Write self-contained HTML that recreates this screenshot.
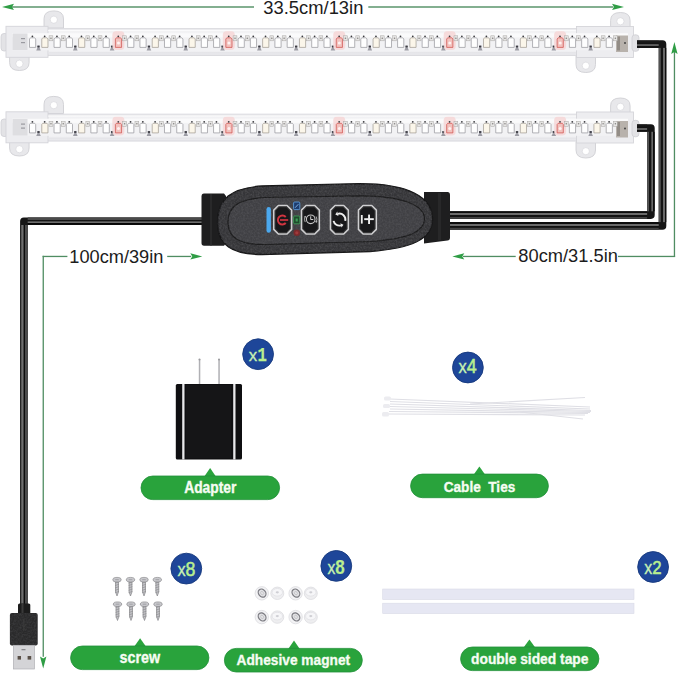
<!DOCTYPE html>
<html><head><meta charset="utf-8"><style>
html,body{margin:0;padding:0;background:#fff;width:679px;height:675px;overflow:hidden}
svg{display:block}
</style></head><body>
<svg width="679" height="675" viewBox="0 0 679 675">
<defs>
<linearGradient id="tube" x1="0" y1="0" x2="0" y2="1">
<stop offset="0" stop-color="#e9e9ec"/><stop offset="0.2" stop-color="#f6f6f8"/><stop offset="0.8" stop-color="#f3f3f5"/><stop offset="1" stop-color="#e4e4e8"/>
</linearGradient>
<linearGradient id="cLH" x1="0" y1="0" x2="0" y2="1"><stop offset="0" stop-color="#3c3c3c"/><stop offset="0.12" stop-color="#4a4a4a"/><stop offset="0.33" stop-color="#4a4a4a"/><stop offset="0.42" stop-color="#0c0c0c"/><stop offset="0.5" stop-color="#0c0c0c"/><stop offset="0.56" stop-color="#6e6e6e"/><stop offset="0.72" stop-color="#6e6e6e"/><stop offset="0.8" stop-color="#060606"/><stop offset="1" stop-color="#101010"/></linearGradient><linearGradient id="cLV" x1="0" y1="0" x2="1" y2="0"><stop offset="0" stop-color="#1e1e1e"/><stop offset="0.12" stop-color="#2e2e2e"/><stop offset="0.22" stop-color="#6e6e6e"/><stop offset="0.42" stop-color="#6e6e6e"/><stop offset="0.48" stop-color="#0c0c0c"/><stop offset="0.6" stop-color="#0c0c0c"/><stop offset="0.66" stop-color="#4a4a4a"/><stop offset="0.92" stop-color="#4a4a4a"/><stop offset="1" stop-color="#3a3a3a"/></linearGradient><linearGradient id="cRH" x1="0" y1="0" x2="0" y2="1"><stop offset="0" stop-color="#0c0c0c"/><stop offset="0.2" stop-color="#0c0c0c"/><stop offset="0.27" stop-color="#6a6a6a"/><stop offset="0.46" stop-color="#6a6a6a"/><stop offset="0.53" stop-color="#111"/><stop offset="0.7" stop-color="#111"/><stop offset="0.76" stop-color="#444"/><stop offset="1" stop-color="#3c3c3c"/></linearGradient><linearGradient id="cBH" x1="0" y1="0" x2="0" y2="1"><stop offset="0" stop-color="#3a3a3a"/><stop offset="0.12" stop-color="#1a1a1a"/><stop offset="0.5" stop-color="#111"/><stop offset="0.56" stop-color="#5f5f5f"/><stop offset="0.72" stop-color="#5f5f5f"/><stop offset="0.8" stop-color="#111"/><stop offset="1" stop-color="#151515"/></linearGradient><linearGradient id="cRV" x1="0" y1="0" x2="1" y2="0"><stop offset="0" stop-color="#505050"/><stop offset="0.22" stop-color="#555"/><stop offset="0.3" stop-color="#151515"/><stop offset="0.54" stop-color="#151515"/><stop offset="0.6" stop-color="#6a6a6a"/><stop offset="0.77" stop-color="#6a6a6a"/><stop offset="0.84" stop-color="#0e0e0e"/><stop offset="1" stop-color="#0e0e0e"/></linearGradient>
<filter id="noise" x="0" y="0" width="100%" height="100%">
<feTurbulence type="fractalNoise" baseFrequency="0.55" numOctaves="2" seed="3" result="t"/>
<feColorMatrix type="matrix" values="0 0 0 0 0.13  0 0 0 0 0.13  0 0 0 0 0.14  0 0 0 1.6 -0.55" in="t" result="n"/>
<feComposite in="n" in2="SourceGraphic" operator="in"/>
</filter>
</defs>
<rect width="679" height="675" fill="#fff"/>

<rect x="6" y="6.3" width="248" height="1.4" fill="#4f8d62"/>
<rect x="368.3" y="6.3" width="245" height="1.4" fill="#4f8d62"/>
<polygon points="2,6.9 14,3.7 12,6.9 14,10.100000000000001" fill="#2f9d45"/>
<polygon points="624,6.9 612,3.7 614,6.9 612,10.100000000000001" fill="#2f9d45"/>
<text x="263.3" y="13.6" font-family="Liberation Sans" font-size="17.7" fill="#1c1c1c" textLength="100.1" lengthAdjust="spacingAndGlyphs">33.5cm/13in</text>
<g id="bar1"><rect x="1" y="33.5" width="7" height="17.5" rx="3" fill="#e3e3e6" stroke="#cfcfd4" stroke-width="0.8"/>
<path d="M44.0,28 L44.0,18.9 Q44.0,10.9 53.8,10.9 Q63.5,10.9 63.5,18.9 L63.5,28 Z" fill="#e8e8eb" stroke="#cfcfd4" stroke-width="0.9"/><circle cx="53.8" cy="19.7" r="3.6" fill="#ffffff" stroke="#d2d2d7" stroke-width="0.6"/>
<path d="M610.6,28 L610.6,20.5 Q610.6,12.5 620.4,12.5 Q630.1,12.5 630.1,20.5 L630.1,28 Z" fill="#e8e8eb" stroke="#cfcfd4" stroke-width="0.9"/><circle cx="620.4" cy="21.3" r="3.6" fill="#ffffff" stroke="#d2d2d7" stroke-width="0.6"/>
<path d="M9.6,56 L9.6,62.5 Q9.6,70.5 19.4,70.5 Q29.1,70.5 29.1,62.5 L29.1,56 Z" fill="#e8e8eb" stroke="#cfcfd4" stroke-width="0.9"/><circle cx="19.4" cy="63.7" r="3.6" fill="#ffffff" stroke="#d2d2d7" stroke-width="0.6"/>
<path d="M576.0,56 L576.0,64.5 Q576.0,72.5 585.8,72.5 Q595.5,72.5 595.5,64.5 L595.5,56 Z" fill="#e8e8eb" stroke="#cfcfd4" stroke-width="0.9"/><circle cx="585.8" cy="65.7" r="3.6" fill="#ffffff" stroke="#d2d2d7" stroke-width="0.6"/>
<rect x="40" y="28.6" width="545" height="27" fill="url(#tube)" stroke="#d8d8dd" stroke-width="0.8"/>
<rect x="6" y="26.3" width="42" height="31" fill="#ededf0" stroke="#d4d4d9" stroke-width="0.9"/>
<rect x="576.5" y="26.5" width="57" height="31" fill="#ededf0" stroke="#d4d4d9" stroke-width="0.9"/>
<rect x="632" y="34.8" width="7" height="16.5" rx="3" fill="#e3e3e6" stroke="#cfcfd4" stroke-width="0.8"/>
<rect x="12" y="33.3" width="616" height="17" fill="#f2f2f4"/>
<rect x="12" y="33.3" width="616" height="4" fill="#fafafb"/>
<rect x="12.5" y="33.5" width="15" height="16.5" fill="#dedee1"/>
<rect x="21" y="38" width="4" height="1.2" fill="#9a9aa0"/><rect x="21" y="42" width="4" height="1.2" fill="#9a9aa0"/>
<rect x="616" y="35.5" width="12" height="16.5" fill="#b8b2ac"/>
<rect x="617" y="36.5" width="3" height="14" fill="#928c86"/>
<circle cx="625" cy="43" r="0.9" fill="#3a3a3a"/>
<path d="M29.50,39 l1,-1.2 h4.2 l1,1.2 v8.4 h-6.2 Z" fill="#fefefe" stroke="#94949a" stroke-width="0.7"/>
<circle cx="32.40" cy="36.3" r="0.9" fill="#3a3a3e"/>
<path d="M36.20,50.5 L38.50,45.2 L40.80,50.5 Z" fill="#9c9ca4"/><rect x="37.30" y="45.6" width="2.4" height="1.8" fill="#3c3c44"/>
<path d="M41.77,39 l1,-1.2 h4.2 l1,1.2 v8.4 h-6.2 Z" fill="#fbf6ea" stroke="#9d988f" stroke-width="0.7"/>
<circle cx="44.67" cy="36.3" r="0.9" fill="#3a3a3e"/>
<rect x="49.07" y="35.8" width="3.8" height="5" fill="#e6e5e4" stroke="#a8a6a4" stroke-width="0.5"/><circle cx="50.97" cy="38.3" r="0.8" fill="#8a8886"/>
<path d="M54.04,39 l1,-1.2 h4.2 l1,1.2 v8.4 h-6.2 Z" fill="#fefefe" stroke="#94949a" stroke-width="0.7"/>
<circle cx="56.94" cy="36.3" r="0.9" fill="#3a3a3e"/>
<rect x="61.34" y="35.8" width="3.8" height="5" fill="#e6e5e4" stroke="#a8a6a4" stroke-width="0.5"/><circle cx="63.24" cy="38.3" r="0.8" fill="#8a8886"/>
<path d="M66.31,39 l1,-1.2 h4.2 l1,1.2 v8.4 h-6.2 Z" fill="#fefefe" stroke="#94949a" stroke-width="0.7"/>
<circle cx="69.21" cy="36.3" r="0.9" fill="#3a3a3e"/>
<path d="M73.01,50.5 L75.31,45.2 L77.61,50.5 Z" fill="#9c9ca4"/><rect x="74.11" y="45.6" width="2.4" height="1.8" fill="#3c3c44"/>
<path d="M78.58,39 l1,-1.2 h4.2 l1,1.2 v8.4 h-6.2 Z" fill="#fbf6ea" stroke="#9d988f" stroke-width="0.7"/>
<circle cx="81.48" cy="36.3" r="0.9" fill="#3a3a3e"/>
<rect x="85.88" y="35.8" width="3.8" height="5" fill="#e6e5e4" stroke="#a8a6a4" stroke-width="0.5"/><circle cx="87.78" cy="38.3" r="0.8" fill="#8a8886"/>
<path d="M90.85,39 l1,-1.2 h4.2 l1,1.2 v8.4 h-6.2 Z" fill="#fefefe" stroke="#94949a" stroke-width="0.7"/>
<circle cx="93.75" cy="36.3" r="0.9" fill="#3a3a3e"/>
<rect x="98.15" y="35.8" width="3.8" height="5" fill="#e6e5e4" stroke="#a8a6a4" stroke-width="0.5"/><circle cx="100.05" cy="38.3" r="0.8" fill="#8a8886"/>
<path d="M103.12,39 l1,-1.2 h4.2 l1,1.2 v8.4 h-6.2 Z" fill="#fefefe" stroke="#94949a" stroke-width="0.7"/>
<circle cx="106.02" cy="36.3" r="0.9" fill="#3a3a3e"/>
<path d="M109.82,50.5 L112.12,45.2 L114.42,50.5 Z" fill="#9c9ca4"/><rect x="110.92" y="45.6" width="2.4" height="1.8" fill="#3c3c44"/>
<rect x="112.39" y="31" width="12" height="19" rx="4" fill="#f6d6d6" opacity="0.85"/>
<path d="M115.39,39 l1,-1.2 h4.2 l1,1.2 v8.4 h-6.2 Z" fill="#f2c2be" stroke="#cf4c48" stroke-width="0.7"/>
<circle cx="118.29" cy="36.3" r="0.9" fill="#3a3a3e"/>
<circle cx="118.49" cy="43" r="1.5" fill="#fff2f2"/>
<rect x="122.69" y="35.8" width="3.8" height="5" fill="#e6e5e4" stroke="#a8a6a4" stroke-width="0.5"/><circle cx="124.59" cy="38.3" r="0.8" fill="#8a8886"/>
<path d="M127.66,39 l1,-1.2 h4.2 l1,1.2 v8.4 h-6.2 Z" fill="#fefefe" stroke="#94949a" stroke-width="0.7"/>
<circle cx="130.56" cy="36.3" r="0.9" fill="#3a3a3e"/>
<rect x="134.96" y="35.8" width="3.8" height="5" fill="#e6e5e4" stroke="#a8a6a4" stroke-width="0.5"/><circle cx="136.86" cy="38.3" r="0.8" fill="#8a8886"/>
<path d="M139.93,39 l1,-1.2 h4.2 l1,1.2 v8.4 h-6.2 Z" fill="#fefefe" stroke="#94949a" stroke-width="0.7"/>
<circle cx="142.83" cy="36.3" r="0.9" fill="#3a3a3e"/>
<path d="M146.63,50.5 L148.93,45.2 L151.23,50.5 Z" fill="#9c9ca4"/><rect x="147.73" y="45.6" width="2.4" height="1.8" fill="#3c3c44"/>
<path d="M152.20,39 l1,-1.2 h4.2 l1,1.2 v8.4 h-6.2 Z" fill="#fbf6ea" stroke="#9d988f" stroke-width="0.7"/>
<circle cx="155.10" cy="36.3" r="0.9" fill="#3a3a3e"/>
<rect x="159.50" y="35.8" width="3.8" height="5" fill="#e6e5e4" stroke="#a8a6a4" stroke-width="0.5"/><circle cx="161.40" cy="38.3" r="0.8" fill="#8a8886"/>
<path d="M164.47,39 l1,-1.2 h4.2 l1,1.2 v8.4 h-6.2 Z" fill="#fefefe" stroke="#94949a" stroke-width="0.7"/>
<circle cx="167.37" cy="36.3" r="0.9" fill="#3a3a3e"/>
<rect x="171.77" y="35.8" width="3.8" height="5" fill="#e6e5e4" stroke="#a8a6a4" stroke-width="0.5"/><circle cx="173.67" cy="38.3" r="0.8" fill="#8a8886"/>
<path d="M176.74,39 l1,-1.2 h4.2 l1,1.2 v8.4 h-6.2 Z" fill="#fefefe" stroke="#94949a" stroke-width="0.7"/>
<circle cx="179.64" cy="36.3" r="0.9" fill="#3a3a3e"/>
<path d="M183.44,50.5 L185.74,45.2 L188.04,50.5 Z" fill="#9c9ca4"/><rect x="184.54" y="45.6" width="2.4" height="1.8" fill="#3c3c44"/>
<path d="M189.01,39 l1,-1.2 h4.2 l1,1.2 v8.4 h-6.2 Z" fill="#fbf6ea" stroke="#9d988f" stroke-width="0.7"/>
<circle cx="191.91" cy="36.3" r="0.9" fill="#3a3a3e"/>
<rect x="196.31" y="35.8" width="3.8" height="5" fill="#e6e5e4" stroke="#a8a6a4" stroke-width="0.5"/><circle cx="198.21" cy="38.3" r="0.8" fill="#8a8886"/>
<path d="M201.28,39 l1,-1.2 h4.2 l1,1.2 v8.4 h-6.2 Z" fill="#fefefe" stroke="#94949a" stroke-width="0.7"/>
<circle cx="204.18" cy="36.3" r="0.9" fill="#3a3a3e"/>
<rect x="208.58" y="35.8" width="3.8" height="5" fill="#e6e5e4" stroke="#a8a6a4" stroke-width="0.5"/><circle cx="210.48" cy="38.3" r="0.8" fill="#8a8886"/>
<path d="M213.55,39 l1,-1.2 h4.2 l1,1.2 v8.4 h-6.2 Z" fill="#fefefe" stroke="#94949a" stroke-width="0.7"/>
<circle cx="216.45" cy="36.3" r="0.9" fill="#3a3a3e"/>
<path d="M220.25,50.5 L222.55,45.2 L224.85,50.5 Z" fill="#9c9ca4"/><rect x="221.35" y="45.6" width="2.4" height="1.8" fill="#3c3c44"/>
<rect x="222.82" y="31" width="12" height="19" rx="4" fill="#f6d6d6" opacity="0.85"/>
<path d="M225.82,39 l1,-1.2 h4.2 l1,1.2 v8.4 h-6.2 Z" fill="#f2c2be" stroke="#cf4c48" stroke-width="0.7"/>
<circle cx="228.72" cy="36.3" r="0.9" fill="#3a3a3e"/>
<circle cx="228.92" cy="43" r="1.5" fill="#fff2f2"/>
<rect x="233.12" y="35.8" width="3.8" height="5" fill="#e6e5e4" stroke="#a8a6a4" stroke-width="0.5"/><circle cx="235.02" cy="38.3" r="0.8" fill="#8a8886"/>
<path d="M238.09,39 l1,-1.2 h4.2 l1,1.2 v8.4 h-6.2 Z" fill="#fefefe" stroke="#94949a" stroke-width="0.7"/>
<circle cx="240.99" cy="36.3" r="0.9" fill="#3a3a3e"/>
<rect x="245.39" y="35.8" width="3.8" height="5" fill="#e6e5e4" stroke="#a8a6a4" stroke-width="0.5"/><circle cx="247.29" cy="38.3" r="0.8" fill="#8a8886"/>
<path d="M250.36,39 l1,-1.2 h4.2 l1,1.2 v8.4 h-6.2 Z" fill="#fefefe" stroke="#94949a" stroke-width="0.7"/>
<circle cx="253.26" cy="36.3" r="0.9" fill="#3a3a3e"/>
<path d="M257.06,50.5 L259.36,45.2 L261.66,50.5 Z" fill="#9c9ca4"/><rect x="258.16" y="45.6" width="2.4" height="1.8" fill="#3c3c44"/>
<path d="M262.63,39 l1,-1.2 h4.2 l1,1.2 v8.4 h-6.2 Z" fill="#fbf6ea" stroke="#9d988f" stroke-width="0.7"/>
<circle cx="265.53" cy="36.3" r="0.9" fill="#3a3a3e"/>
<rect x="269.93" y="35.8" width="3.8" height="5" fill="#e6e5e4" stroke="#a8a6a4" stroke-width="0.5"/><circle cx="271.83" cy="38.3" r="0.8" fill="#8a8886"/>
<path d="M274.90,39 l1,-1.2 h4.2 l1,1.2 v8.4 h-6.2 Z" fill="#fefefe" stroke="#94949a" stroke-width="0.7"/>
<circle cx="277.80" cy="36.3" r="0.9" fill="#3a3a3e"/>
<rect x="282.20" y="35.8" width="3.8" height="5" fill="#e6e5e4" stroke="#a8a6a4" stroke-width="0.5"/><circle cx="284.10" cy="38.3" r="0.8" fill="#8a8886"/>
<path d="M287.17,39 l1,-1.2 h4.2 l1,1.2 v8.4 h-6.2 Z" fill="#fefefe" stroke="#94949a" stroke-width="0.7"/>
<circle cx="290.07" cy="36.3" r="0.9" fill="#3a3a3e"/>
<path d="M293.87,50.5 L296.17,45.2 L298.47,50.5 Z" fill="#9c9ca4"/><rect x="294.97" y="45.6" width="2.4" height="1.8" fill="#3c3c44"/>
<path d="M299.44,39 l1,-1.2 h4.2 l1,1.2 v8.4 h-6.2 Z" fill="#fbf6ea" stroke="#9d988f" stroke-width="0.7"/>
<circle cx="302.34" cy="36.3" r="0.9" fill="#3a3a3e"/>
<rect x="306.74" y="35.8" width="3.8" height="5" fill="#e6e5e4" stroke="#a8a6a4" stroke-width="0.5"/><circle cx="308.64" cy="38.3" r="0.8" fill="#8a8886"/>
<path d="M311.71,39 l1,-1.2 h4.2 l1,1.2 v8.4 h-6.2 Z" fill="#fefefe" stroke="#94949a" stroke-width="0.7"/>
<circle cx="314.61" cy="36.3" r="0.9" fill="#3a3a3e"/>
<rect x="319.01" y="35.8" width="3.8" height="5" fill="#e6e5e4" stroke="#a8a6a4" stroke-width="0.5"/><circle cx="320.91" cy="38.3" r="0.8" fill="#8a8886"/>
<path d="M323.98,39 l1,-1.2 h4.2 l1,1.2 v8.4 h-6.2 Z" fill="#fefefe" stroke="#94949a" stroke-width="0.7"/>
<circle cx="326.88" cy="36.3" r="0.9" fill="#3a3a3e"/>
<path d="M330.68,50.5 L332.98,45.2 L335.28,50.5 Z" fill="#9c9ca4"/><rect x="331.78" y="45.6" width="2.4" height="1.8" fill="#3c3c44"/>
<rect x="333.25" y="31" width="12" height="19" rx="4" fill="#f6d6d6" opacity="0.85"/>
<path d="M336.25,39 l1,-1.2 h4.2 l1,1.2 v8.4 h-6.2 Z" fill="#f2c2be" stroke="#cf4c48" stroke-width="0.7"/>
<circle cx="339.15" cy="36.3" r="0.9" fill="#3a3a3e"/>
<circle cx="339.35" cy="43" r="1.5" fill="#fff2f2"/>
<rect x="343.55" y="35.8" width="3.8" height="5" fill="#e6e5e4" stroke="#a8a6a4" stroke-width="0.5"/><circle cx="345.45" cy="38.3" r="0.8" fill="#8a8886"/>
<path d="M348.52,39 l1,-1.2 h4.2 l1,1.2 v8.4 h-6.2 Z" fill="#fefefe" stroke="#94949a" stroke-width="0.7"/>
<circle cx="351.42" cy="36.3" r="0.9" fill="#3a3a3e"/>
<rect x="355.82" y="35.8" width="3.8" height="5" fill="#e6e5e4" stroke="#a8a6a4" stroke-width="0.5"/><circle cx="357.72" cy="38.3" r="0.8" fill="#8a8886"/>
<path d="M360.79,39 l1,-1.2 h4.2 l1,1.2 v8.4 h-6.2 Z" fill="#fefefe" stroke="#94949a" stroke-width="0.7"/>
<circle cx="363.69" cy="36.3" r="0.9" fill="#3a3a3e"/>
<path d="M367.49,50.5 L369.79,45.2 L372.09,50.5 Z" fill="#9c9ca4"/><rect x="368.59" y="45.6" width="2.4" height="1.8" fill="#3c3c44"/>
<path d="M373.06,39 l1,-1.2 h4.2 l1,1.2 v8.4 h-6.2 Z" fill="#fbf6ea" stroke="#9d988f" stroke-width="0.7"/>
<circle cx="375.96" cy="36.3" r="0.9" fill="#3a3a3e"/>
<rect x="380.36" y="35.8" width="3.8" height="5" fill="#e6e5e4" stroke="#a8a6a4" stroke-width="0.5"/><circle cx="382.26" cy="38.3" r="0.8" fill="#8a8886"/>
<path d="M385.33,39 l1,-1.2 h4.2 l1,1.2 v8.4 h-6.2 Z" fill="#fefefe" stroke="#94949a" stroke-width="0.7"/>
<circle cx="388.23" cy="36.3" r="0.9" fill="#3a3a3e"/>
<rect x="392.63" y="35.8" width="3.8" height="5" fill="#e6e5e4" stroke="#a8a6a4" stroke-width="0.5"/><circle cx="394.53" cy="38.3" r="0.8" fill="#8a8886"/>
<path d="M397.60,39 l1,-1.2 h4.2 l1,1.2 v8.4 h-6.2 Z" fill="#fefefe" stroke="#94949a" stroke-width="0.7"/>
<circle cx="400.50" cy="36.3" r="0.9" fill="#3a3a3e"/>
<path d="M404.30,50.5 L406.60,45.2 L408.90,50.5 Z" fill="#9c9ca4"/><rect x="405.40" y="45.6" width="2.4" height="1.8" fill="#3c3c44"/>
<path d="M409.87,39 l1,-1.2 h4.2 l1,1.2 v8.4 h-6.2 Z" fill="#fbf6ea" stroke="#9d988f" stroke-width="0.7"/>
<circle cx="412.77" cy="36.3" r="0.9" fill="#3a3a3e"/>
<rect x="417.17" y="35.8" width="3.8" height="5" fill="#e6e5e4" stroke="#a8a6a4" stroke-width="0.5"/><circle cx="419.07" cy="38.3" r="0.8" fill="#8a8886"/>
<path d="M422.14,39 l1,-1.2 h4.2 l1,1.2 v8.4 h-6.2 Z" fill="#fefefe" stroke="#94949a" stroke-width="0.7"/>
<circle cx="425.04" cy="36.3" r="0.9" fill="#3a3a3e"/>
<rect x="429.44" y="35.8" width="3.8" height="5" fill="#e6e5e4" stroke="#a8a6a4" stroke-width="0.5"/><circle cx="431.34" cy="38.3" r="0.8" fill="#8a8886"/>
<path d="M434.41,39 l1,-1.2 h4.2 l1,1.2 v8.4 h-6.2 Z" fill="#fefefe" stroke="#94949a" stroke-width="0.7"/>
<circle cx="437.31" cy="36.3" r="0.9" fill="#3a3a3e"/>
<path d="M441.11,50.5 L443.41,45.2 L445.71,50.5 Z" fill="#9c9ca4"/><rect x="442.21" y="45.6" width="2.4" height="1.8" fill="#3c3c44"/>
<rect x="443.68" y="31" width="12" height="19" rx="4" fill="#f6d6d6" opacity="0.85"/>
<path d="M446.68,39 l1,-1.2 h4.2 l1,1.2 v8.4 h-6.2 Z" fill="#f2c2be" stroke="#cf4c48" stroke-width="0.7"/>
<circle cx="449.58" cy="36.3" r="0.9" fill="#3a3a3e"/>
<circle cx="449.78" cy="43" r="1.5" fill="#fff2f2"/>
<rect x="453.98" y="35.8" width="3.8" height="5" fill="#e6e5e4" stroke="#a8a6a4" stroke-width="0.5"/><circle cx="455.88" cy="38.3" r="0.8" fill="#8a8886"/>
<path d="M458.95,39 l1,-1.2 h4.2 l1,1.2 v8.4 h-6.2 Z" fill="#fefefe" stroke="#94949a" stroke-width="0.7"/>
<circle cx="461.85" cy="36.3" r="0.9" fill="#3a3a3e"/>
<rect x="466.25" y="35.8" width="3.8" height="5" fill="#e6e5e4" stroke="#a8a6a4" stroke-width="0.5"/><circle cx="468.15" cy="38.3" r="0.8" fill="#8a8886"/>
<path d="M471.22,39 l1,-1.2 h4.2 l1,1.2 v8.4 h-6.2 Z" fill="#fefefe" stroke="#94949a" stroke-width="0.7"/>
<circle cx="474.12" cy="36.3" r="0.9" fill="#3a3a3e"/>
<path d="M477.92,50.5 L480.22,45.2 L482.52,50.5 Z" fill="#9c9ca4"/><rect x="479.02" y="45.6" width="2.4" height="1.8" fill="#3c3c44"/>
<path d="M483.49,39 l1,-1.2 h4.2 l1,1.2 v8.4 h-6.2 Z" fill="#fbf6ea" stroke="#9d988f" stroke-width="0.7"/>
<circle cx="486.39" cy="36.3" r="0.9" fill="#3a3a3e"/>
<rect x="490.79" y="35.8" width="3.8" height="5" fill="#e6e5e4" stroke="#a8a6a4" stroke-width="0.5"/><circle cx="492.69" cy="38.3" r="0.8" fill="#8a8886"/>
<path d="M495.76,39 l1,-1.2 h4.2 l1,1.2 v8.4 h-6.2 Z" fill="#fefefe" stroke="#94949a" stroke-width="0.7"/>
<circle cx="498.66" cy="36.3" r="0.9" fill="#3a3a3e"/>
<rect x="503.06" y="35.8" width="3.8" height="5" fill="#e6e5e4" stroke="#a8a6a4" stroke-width="0.5"/><circle cx="504.96" cy="38.3" r="0.8" fill="#8a8886"/>
<path d="M508.03,39 l1,-1.2 h4.2 l1,1.2 v8.4 h-6.2 Z" fill="#fefefe" stroke="#94949a" stroke-width="0.7"/>
<circle cx="510.93" cy="36.3" r="0.9" fill="#3a3a3e"/>
<path d="M514.73,50.5 L517.03,45.2 L519.33,50.5 Z" fill="#9c9ca4"/><rect x="515.83" y="45.6" width="2.4" height="1.8" fill="#3c3c44"/>
<path d="M520.30,39 l1,-1.2 h4.2 l1,1.2 v8.4 h-6.2 Z" fill="#fbf6ea" stroke="#9d988f" stroke-width="0.7"/>
<circle cx="523.20" cy="36.3" r="0.9" fill="#3a3a3e"/>
<rect x="527.60" y="35.8" width="3.8" height="5" fill="#e6e5e4" stroke="#a8a6a4" stroke-width="0.5"/><circle cx="529.50" cy="38.3" r="0.8" fill="#8a8886"/>
<path d="M532.57,39 l1,-1.2 h4.2 l1,1.2 v8.4 h-6.2 Z" fill="#fefefe" stroke="#94949a" stroke-width="0.7"/>
<circle cx="535.47" cy="36.3" r="0.9" fill="#3a3a3e"/>
<rect x="539.87" y="35.8" width="3.8" height="5" fill="#e6e5e4" stroke="#a8a6a4" stroke-width="0.5"/><circle cx="541.77" cy="38.3" r="0.8" fill="#8a8886"/>
<path d="M544.84,39 l1,-1.2 h4.2 l1,1.2 v8.4 h-6.2 Z" fill="#fefefe" stroke="#94949a" stroke-width="0.7"/>
<circle cx="547.74" cy="36.3" r="0.9" fill="#3a3a3e"/>
<path d="M551.54,50.5 L553.84,45.2 L556.14,50.5 Z" fill="#9c9ca4"/><rect x="552.64" y="45.6" width="2.4" height="1.8" fill="#3c3c44"/>
<rect x="554.11" y="31" width="12" height="19" rx="4" fill="#f6d6d6" opacity="0.85"/>
<path d="M557.11,39 l1,-1.2 h4.2 l1,1.2 v8.4 h-6.2 Z" fill="#f2c2be" stroke="#cf4c48" stroke-width="0.7"/>
<circle cx="560.01" cy="36.3" r="0.9" fill="#3a3a3e"/>
<circle cx="560.21" cy="43" r="1.5" fill="#fff2f2"/>
<rect x="564.41" y="35.8" width="3.8" height="5" fill="#e6e5e4" stroke="#a8a6a4" stroke-width="0.5"/><circle cx="566.31" cy="38.3" r="0.8" fill="#8a8886"/>
<path d="M569.38,39 l1,-1.2 h4.2 l1,1.2 v8.4 h-6.2 Z" fill="#fefefe" stroke="#94949a" stroke-width="0.7"/>
<circle cx="572.28" cy="36.3" r="0.9" fill="#3a3a3e"/>
<rect x="576.68" y="35.8" width="3.8" height="5" fill="#e6e5e4" stroke="#a8a6a4" stroke-width="0.5"/><circle cx="578.58" cy="38.3" r="0.8" fill="#8a8886"/>
<path d="M581.65,39 l1,-1.2 h4.2 l1,1.2 v8.4 h-6.2 Z" fill="#fefefe" stroke="#94949a" stroke-width="0.7"/>
<circle cx="584.55" cy="36.3" r="0.9" fill="#3a3a3e"/>
<path d="M588.35,50.5 L590.65,45.2 L592.95,50.5 Z" fill="#9c9ca4"/><rect x="589.45" y="45.6" width="2.4" height="1.8" fill="#3c3c44"/>
<path d="M593.92,39 l1,-1.2 h4.2 l1,1.2 v8.4 h-6.2 Z" fill="#fbf6ea" stroke="#9d988f" stroke-width="0.7"/>
<circle cx="596.82" cy="36.3" r="0.9" fill="#3a3a3e"/>
<rect x="601.22" y="35.8" width="3.8" height="5" fill="#e6e5e4" stroke="#a8a6a4" stroke-width="0.5"/><circle cx="603.12" cy="38.3" r="0.8" fill="#8a8886"/>
<path d="M606.19,39 l1,-1.2 h4.2 l1,1.2 v8.4 h-6.2 Z" fill="#fefefe" stroke="#94949a" stroke-width="0.7"/>
<circle cx="609.09" cy="36.3" r="0.9" fill="#3a3a3e"/>
<rect x="613.49" y="35.8" width="3.8" height="5" fill="#e6e5e4" stroke="#a8a6a4" stroke-width="0.5"/><circle cx="615.39" cy="38.3" r="0.8" fill="#8a8886"/>
<rect x="48" y="30" width="528" height="1.2" fill="#ffffff" opacity="0.7"/>
<rect x="48" y="52" width="528" height="1.5" fill="#e4e4e8" opacity="0.9"/></g>
<use href="#bar1" transform="translate(0 85.5)"/>
<path d="M637,44.1 L662.5,44.1 L662.5,225.9 L448,225.9" fill="none" stroke="#161616" stroke-width="7.6" stroke-linejoin="round"/>
<rect x="637" y="40.300000000000004" width="21.700000000000045" height="7.6" fill="url(#cBH)"/>
<rect x="658.7" y="47.9" width="7.6" height="174.2" fill="url(#cRV)"/>
<rect x="448" y="222.1" width="210.70000000000005" height="7.6" fill="url(#cRH)"/>
<path d="M637,128 L650.9,128 L650.9,215.1 L448,215.1" fill="none" stroke="#161616" stroke-width="7.6" stroke-linejoin="round"/>
<rect x="637" y="124.2" width="10.100000000000023" height="7.6" fill="url(#cBH)"/>
<rect x="647.1" y="131.8" width="7.6" height="79.49999999999997" fill="url(#cRV)"/>
<rect x="448" y="211.29999999999998" width="199.10000000000002" height="7.6" fill="url(#cRH)"/>
<path d="M204,221.2 L23.9,221.2 L23.9,606" fill="none" stroke="#161616" stroke-width="7.6" stroke-linejoin="round"/>
<rect x="27.7" y="217.39999999999998" width="176.3" height="7.6" fill="url(#cLH)"/>
<rect x="20.099999999999998" y="225.0" width="7.6" height="381.0" fill="url(#cLV)"/>
<path d="M204,193.5 H224 L226,196 V243 L224,245.8 H204 Q201.5,245.8 201.5,243 V196.5 Q201.5,193.5 204,193.5 Z" fill="#1e1e1f"/>
<path d="M210,194 H212 V245.5 H210 Z" fill="#2c2c2d" opacity="0.8"/>
<path d="M424,192 H447.5 Q450,192 450,195 V237.5 Q450,240.5 447.5,240.5 L424,243.5 Z" fill="#1e1e1f"/>
<path d="M438,193 H441 V240 H438 Z" fill="#2b2b2c" opacity="0.8"/>
<path d="M217.5,222 C217.5,199 231,188 262,186 L360,183.6 C408,183.6 432.5,197 432.5,219 C432.5,240 410,248.5 370,251.5 L262,254.5 C232,254.5 217.5,245 217.5,222 Z" fill="#353538" stroke="#161617" stroke-width="1.3"/>
<path d="M217.5,222 C217.5,199 231,188 262,186 L360,183.6 C408,183.6 432.5,197 432.5,219 C432.5,240 410,248.5 370,251.5 L262,254.5 C232,254.5 217.5,245 217.5,222 Z" fill="#fff" filter="url(#noise)" opacity="0.55"/>
<path d="M228,222 C228,206 240,199 264,197.5 L360,195.8 C402,196 424.5,205 424.5,219 C424.5,233 404,239.5 370,241.5 L264,244.5 C240,244.5 228,238 228,222 Z" fill="#404044" stroke="#1c1c1d" stroke-width="1.2"/>
<path d="M228,222 C228,206 240,199 264,197.5 L360,195.8 C402,196 424.5,205 424.5,219 C424.5,233 404,239.5 370,241.5 L264,244.5 C240,244.5 228,238 228,222 Z" fill="#fff" filter="url(#noise)" opacity="0.5"/>
<rect x="266.5" y="207" width="4.4" height="25.8" rx="2.2" fill="#4ba8ee"/>
<path d="M278.40000000000003,205.5 H287.0 L291.6,210.1 V229.4 L287.0,234.0 H278.40000000000003 L273.8,229.4 V210.1 Z" fill="#18181a" stroke="#cfcfd1" stroke-width="1.6" stroke-linejoin="round"/><path d="M278.40000000000003,205.5 H287.0 L291.6,210.1 V229.4 L287.0,234.0 H278.40000000000003 L273.8,229.4 V210.1 Z" fill="none" stroke="#6a6a6c" stroke-width="0.5" transform="translate(282.7 219.75) scale(0.86 0.91) translate(-282.7 -219.75)"/>
<path d="M306.1,205.5 H314.7 L319.3,210.1 V229.4 L314.7,234.0 H306.1 L301.5,229.4 V210.1 Z" fill="#18181a" stroke="#cfcfd1" stroke-width="1.6" stroke-linejoin="round"/><path d="M306.1,205.5 H314.7 L319.3,210.1 V229.4 L314.7,234.0 H306.1 L301.5,229.4 V210.1 Z" fill="none" stroke="#6a6a6c" stroke-width="0.5" transform="translate(310.4 219.75) scale(0.86 0.91) translate(-310.4 -219.75)"/>
<path d="M335.1,205.5 H343.7 L348.3,210.1 V229.4 L343.7,234.0 H335.1 L330.5,229.4 V210.1 Z" fill="#18181a" stroke="#cfcfd1" stroke-width="1.6" stroke-linejoin="round"/><path d="M335.1,205.5 H343.7 L348.3,210.1 V229.4 L343.7,234.0 H335.1 L330.5,229.4 V210.1 Z" fill="none" stroke="#6a6a6c" stroke-width="0.5" transform="translate(339.4 219.75) scale(0.86 0.91) translate(-339.4 -219.75)"/>
<path d="M363.1,205.5 H371.7 L376.3,210.1 V229.4 L371.7,234.0 H363.1 L358.5,229.4 V210.1 Z" fill="#18181a" stroke="#cfcfd1" stroke-width="1.6" stroke-linejoin="round"/><path d="M363.1,205.5 H371.7 L376.3,210.1 V229.4 L371.7,234.0 H363.1 L358.5,229.4 V210.1 Z" fill="none" stroke="#6a6a6c" stroke-width="0.5" transform="translate(367.4 219.75) scale(0.86 0.91) translate(-367.4 -219.75)"/>
<path d="M285.74,216.99 A4.5,4.5 0 1 0 285.74,223.01" fill="none" stroke="#d03540" stroke-width="1.9"/>
<line x1="280" y1="220" x2="288.2" y2="220" stroke="#d03540" stroke-width="1.7"/>
<rect x="293.6" y="202" width="6.2" height="7.6" rx="1" fill="#1d3d70" stroke="#5a9ad8" stroke-width="0.9"/><path d="M295,207.8 l3.4,-3.6" stroke="#9cc8f0" stroke-width="0.8"/>
<rect x="293.6" y="216" width="6.2" height="7.8" rx="1" fill="#1e4a2c" stroke="#3f9c58" stroke-width="0.9"/><rect x="295.6" y="218.5" width="2.2" height="3" fill="#3f9c58"/>
<circle cx="296.8" cy="232.8" r="3.3" fill="#7a2a2c"/><circle cx="296.8" cy="232.8" r="1.6" fill="#a03a3c"/>
<circle cx="310.7" cy="219.3" r="4.3" fill="none" stroke="#c8c8c8" stroke-width="1.1"/>
<path d="M310.7,216.3 V219.5 H313.3" fill="none" stroke="#d0d0d0" stroke-width="1"/>
<path d="M305.2,216.5 A6.3,6.3 0 0 0 305.2,222.1 M316.2,216.5 A6.3,6.3 0 0 1 316.2,222.1" fill="none" stroke="#bdbdbd" stroke-width="0.9"/>
<path d="M303.8,217.3 l1.4,-1.6 l1.2,1.6 Z M317.6,221.3 l-1.4,1.6 l-1.2,-1.6 Z" fill="#bdbdbd"/>
<path d="M337.85,213.80 A6.0,6.0 0 0 1 345.27,220.85" fill="none" stroke="#eeeeee" stroke-width="1.9"/>
<path d="M333.53,220.85 A6.0,6.0 0 0 0 340.95,225.40" fill="none" stroke="#eeeeee" stroke-width="1.9"/>
<path d="M335.34,214.48 L337.25,211.58 L338.44,216.03 Z" fill="#eeeeee"/>
<path d="M343.46,224.72 L341.55,227.62 L340.36,223.17 Z" fill="#eeeeee"/>
<rect x="360.9" y="215" width="1.8" height="8.6" fill="#eeeeee"/>
<rect x="364.2" y="218.2" width="9.6" height="1.9" fill="#eeeeee"/>
<rect x="368.1" y="214.6" width="1.9" height="9.4" fill="#eeeeee"/>
<rect x="18" y="603.5" width="12.3" height="10.5" rx="1.5" fill="#1c1c1c"/>
<rect x="21.5" y="603.5" width="2" height="10" fill="#3a3a3a"/>
<rect x="9.9" y="613" width="27.8" height="32.5" rx="2" fill="#2a2a2b"/>
<rect x="9.9" y="613" width="27.8" height="32.5" rx="2" fill="#fff" filter="url(#noise)" opacity="0.35"/>
<path d="M23.8,619 v12 M21.5,625 l2.3,2 l2.3,-3" stroke="#3c3c3c" stroke-width="1" fill="none"/>
<rect x="13.4" y="645.3" width="21" height="23.7" fill="#d4d4d7" stroke="#b0b0b4" stroke-width="0.7"/>
<rect x="17.6" y="656" width="3.4" height="3.6" fill="#5a5048"/>
<rect x="27.6" y="656" width="3.6" height="3.6" fill="#5a5048"/>
<rect x="21.5" y="649" width="4" height="1.3" fill="#8a8a8e"/>
<rect x="42.6" y="255.8" width="1.3" height="401" fill="#4f8d62"/>
<rect x="42.6" y="255.8" width="24.8" height="1.3" fill="#4f8d62"/>
<rect x="167.2" y="255.8" width="24" height="1.3" fill="#4f8d62"/>
<polygon points="202.3,256.4 190.3,253.2 192.3,256.4 190.3,259.59999999999997" fill="#2f9d45"/>
<polygon points="43.2,668.5 40.0,656.5 43.2,658.5 46.400000000000006,656.5" fill="#2f9d45"/>
<text x="69.3" y="262.5" font-family="Liberation Sans" font-size="17.5" fill="#1c1c1c" textLength="94.1" lengthAdjust="spacingAndGlyphs">100cm/39in</text>
<rect x="673.8" y="52" width="1.3" height="205" fill="#4f8d62"/>
<rect x="618" y="255.8" width="57.1" height="1.3" fill="#4f8d62"/>
<rect x="463" y="255.8" width="52.7" height="1.3" fill="#4f8d62"/>
<polygon points="452.3,256.4 464.3,253.2 462.3,256.4 464.3,259.59999999999997" fill="#2f9d45"/>
<polygon points="674.4,42 671.1999999999999,54 674.4,52 677.6,54" fill="#2f9d45"/>
<text x="518.3" y="261.9" font-family="Liberation Sans" font-size="17.6" fill="#1c1c1c" textLength="99.6" lengthAdjust="spacingAndGlyphs">80cm/31.5in</text>
<rect x="198.8" y="359" width="1.5" height="26" fill="#b0b0b4"/><circle cx="199.5" cy="359.5" r="1" fill="#9a9a9e"/>
<rect x="218.3" y="359" width="1.5" height="26" fill="#b0b0b4"/><circle cx="219" cy="359.5" r="1" fill="#9a9a9e"/>
<rect x="175.8" y="384" width="66.2" height="75.5" rx="1.5" fill="#0f0f11"/>
<rect x="186" y="385" width="45" height="73" fill="#151517"/>
<rect x="182.2" y="384" width="2.3" height="75.5" fill="#e8e8ea"/>
<rect x="233.2" y="384" width="2.3" height="75.5" fill="#e8e8ea"/>
<circle cx="258.1" cy="354.2" r="15.4" fill="#1e4699" stroke="#173a7e" stroke-width="0.9"/><text x="253" y="360.8" text-anchor="middle" font-family="Liberation Sans" font-size="18.5" fill="#b9ef8e"><tspan font-size="16.8" fill="#c8f2b4" stroke="#c8f2b4" stroke-width="0.3">x</tspan><tspan font-weight="bold" stroke="#b9ef8e" stroke-width="0.2"></tspan></text>
<text x="257.6" y="360.8" font-family="Liberation Mono" font-weight="bold" font-size="19.3" fill="#b9ef8e" stroke="#b9ef8e" stroke-width="0.25" textLength="9.4" lengthAdjust="spacingAndGlyphs">1</text>
<path d="M204.1,476.8 L210.1,468 L216.1,476.8 Z" fill="#29a33c"/>
<rect x="141" y="476" width="138.6" height="23.6" rx="11.8" fill="#29a33c" stroke="#22913a" stroke-width="0.8"/>
<text x="210.3" y="492.8" text-anchor="middle" font-family="Liberation Sans" font-weight="bold" font-size="16.2" fill="#f6fcf2" stroke="#f6fcf2" stroke-width="0.35" textLength="52.3" lengthAdjust="spacingAndGlyphs">Adapter</text>
<line x1="390" y1="399" x2="590" y2="407" stroke="#dfdfe5" stroke-width="1.2"/>
<line x1="390" y1="401.5" x2="590" y2="409" stroke="#dfdfe5" stroke-width="1.2"/>
<line x1="390" y1="404" x2="591" y2="410.5" stroke="#dfdfe5" stroke-width="1.2"/>
<line x1="390" y1="406.5" x2="591" y2="411.5" stroke="#dfdfe5" stroke-width="1.2"/>
<line x1="390" y1="409" x2="590" y2="412.5" stroke="#dfdfe5" stroke-width="1.2"/>
<line x1="389" y1="411.5" x2="588" y2="413.5" stroke="#dfdfe5" stroke-width="1.2"/>
<line x1="388" y1="414" x2="585" y2="415" stroke="#dfdfe5" stroke-width="1.2"/>
<line x1="470" y1="404" x2="585" y2="397.5" stroke="#dfdfe5" stroke-width="1.2"/>
<line x1="520" y1="412" x2="583" y2="419" stroke="#dfdfe5" stroke-width="1.2"/>
<rect x="384" y="396.5" width="7" height="4" rx="1.5" fill="#ececf0"/><rect x="383" y="404" width="7" height="4" rx="1.5" fill="#ececf0"/><rect x="382" y="412" width="7" height="4.5" rx="1.5" fill="#ececf0"/>
<circle cx="467.9" cy="367.5" r="15.4" fill="#1e4699" stroke="#173a7e" stroke-width="0.9"/><text x="467.6" y="373" text-anchor="middle" font-family="Liberation Sans" font-size="19.5" fill="#b9ef8e" textLength="18.2" lengthAdjust="spacingAndGlyphs"><tspan font-size="18" fill="#c8f2b4" stroke="#c8f2b4" stroke-width="0.3">x</tspan><tspan font-weight="normal" stroke="#b9ef8e" stroke-width="0.55">4</tspan></text>
<path d="M473.4,474.90000000000003 L479.4,466.6 L485.4,474.90000000000003 Z" fill="#29a33c"/>
<rect x="410.6" y="474.1" width="137.8" height="23.6" rx="11.8" fill="#29a33c" stroke="#22913a" stroke-width="0.8"/>
<text x="479.5" y="491.8" text-anchor="middle" font-family="Liberation Sans" font-weight="bold" font-size="15.5" fill="#f6fcf2" stroke="#f6fcf2" stroke-width="0.35" textLength="71.5" lengthAdjust="spacingAndGlyphs">Cable&#160;&#160;Ties</text>
<path d="M115.5,580.5 V592.0 L117,596.0 L118.5,592.0 V580.5 Z" fill="#c2c2c6" stroke="#7a7a7e" stroke-width="0.6"/><line x1="115.1" y1="583.1" x2="118.9" y2="581.9" stroke="#86868a" stroke-width="0.6"/><line x1="115.1" y1="585.5" x2="118.9" y2="584.3" stroke="#86868a" stroke-width="0.6"/><line x1="115.1" y1="587.9" x2="118.9" y2="586.6999999999999" stroke="#86868a" stroke-width="0.6"/><line x1="115.1" y1="590.3000000000001" x2="118.9" y2="589.1" stroke="#86868a" stroke-width="0.6"/><line x1="115.1" y1="592.7" x2="118.9" y2="591.5" stroke="#86868a" stroke-width="0.6"/><ellipse cx="117" cy="579.7" rx="4.2" ry="2.3" fill="#c8c8cc" stroke="#7a7a7e" stroke-width="0.6"/><line x1="115.2" y1="579.7" x2="118.8" y2="579.7" stroke="#8a8a8e" stroke-width="0.6"/>
<path d="M129.0,580.5 V592.0 L130.5,596.0 L132.0,592.0 V580.5 Z" fill="#c2c2c6" stroke="#7a7a7e" stroke-width="0.6"/><line x1="128.6" y1="583.1" x2="132.4" y2="581.9" stroke="#86868a" stroke-width="0.6"/><line x1="128.6" y1="585.5" x2="132.4" y2="584.3" stroke="#86868a" stroke-width="0.6"/><line x1="128.6" y1="587.9" x2="132.4" y2="586.6999999999999" stroke="#86868a" stroke-width="0.6"/><line x1="128.6" y1="590.3000000000001" x2="132.4" y2="589.1" stroke="#86868a" stroke-width="0.6"/><line x1="128.6" y1="592.7" x2="132.4" y2="591.5" stroke="#86868a" stroke-width="0.6"/><ellipse cx="130.5" cy="579.7" rx="4.2" ry="2.3" fill="#c8c8cc" stroke="#7a7a7e" stroke-width="0.6"/><line x1="128.7" y1="579.7" x2="132.3" y2="579.7" stroke="#8a8a8e" stroke-width="0.6"/>
<path d="M142.5,580.5 V592.0 L144,596.0 L145.5,592.0 V580.5 Z" fill="#c2c2c6" stroke="#7a7a7e" stroke-width="0.6"/><line x1="142.1" y1="583.1" x2="145.9" y2="581.9" stroke="#86868a" stroke-width="0.6"/><line x1="142.1" y1="585.5" x2="145.9" y2="584.3" stroke="#86868a" stroke-width="0.6"/><line x1="142.1" y1="587.9" x2="145.9" y2="586.6999999999999" stroke="#86868a" stroke-width="0.6"/><line x1="142.1" y1="590.3000000000001" x2="145.9" y2="589.1" stroke="#86868a" stroke-width="0.6"/><line x1="142.1" y1="592.7" x2="145.9" y2="591.5" stroke="#86868a" stroke-width="0.6"/><ellipse cx="144" cy="579.7" rx="4.2" ry="2.3" fill="#c8c8cc" stroke="#7a7a7e" stroke-width="0.6"/><line x1="142.2" y1="579.7" x2="145.8" y2="579.7" stroke="#8a8a8e" stroke-width="0.6"/>
<path d="M155.8,580.5 V592.0 L157.3,596.0 L158.8,592.0 V580.5 Z" fill="#c2c2c6" stroke="#7a7a7e" stroke-width="0.6"/><line x1="155.4" y1="583.1" x2="159.20000000000002" y2="581.9" stroke="#86868a" stroke-width="0.6"/><line x1="155.4" y1="585.5" x2="159.20000000000002" y2="584.3" stroke="#86868a" stroke-width="0.6"/><line x1="155.4" y1="587.9" x2="159.20000000000002" y2="586.6999999999999" stroke="#86868a" stroke-width="0.6"/><line x1="155.4" y1="590.3000000000001" x2="159.20000000000002" y2="589.1" stroke="#86868a" stroke-width="0.6"/><line x1="155.4" y1="592.7" x2="159.20000000000002" y2="591.5" stroke="#86868a" stroke-width="0.6"/><ellipse cx="157.3" cy="579.7" rx="4.2" ry="2.3" fill="#c8c8cc" stroke="#7a7a7e" stroke-width="0.6"/><line x1="155.5" y1="579.7" x2="159.10000000000002" y2="579.7" stroke="#8a8a8e" stroke-width="0.6"/>
<path d="M116.0,605 V616.5 L117.5,620.5 L119.0,616.5 V605 Z" fill="#c2c2c6" stroke="#7a7a7e" stroke-width="0.6"/><line x1="115.6" y1="607.6" x2="119.4" y2="606.4" stroke="#86868a" stroke-width="0.6"/><line x1="115.6" y1="610.0" x2="119.4" y2="608.8" stroke="#86868a" stroke-width="0.6"/><line x1="115.6" y1="612.4" x2="119.4" y2="611.1999999999999" stroke="#86868a" stroke-width="0.6"/><line x1="115.6" y1="614.8000000000001" x2="119.4" y2="613.6" stroke="#86868a" stroke-width="0.6"/><line x1="115.6" y1="617.2" x2="119.4" y2="616.0" stroke="#86868a" stroke-width="0.6"/><ellipse cx="117.5" cy="604.2" rx="4.2" ry="2.3" fill="#c8c8cc" stroke="#7a7a7e" stroke-width="0.6"/><line x1="115.7" y1="604.2" x2="119.3" y2="604.2" stroke="#8a8a8e" stroke-width="0.6"/>
<path d="M129.5,605 V616.5 L131,620.5 L132.5,616.5 V605 Z" fill="#c2c2c6" stroke="#7a7a7e" stroke-width="0.6"/><line x1="129.1" y1="607.6" x2="132.9" y2="606.4" stroke="#86868a" stroke-width="0.6"/><line x1="129.1" y1="610.0" x2="132.9" y2="608.8" stroke="#86868a" stroke-width="0.6"/><line x1="129.1" y1="612.4" x2="132.9" y2="611.1999999999999" stroke="#86868a" stroke-width="0.6"/><line x1="129.1" y1="614.8000000000001" x2="132.9" y2="613.6" stroke="#86868a" stroke-width="0.6"/><line x1="129.1" y1="617.2" x2="132.9" y2="616.0" stroke="#86868a" stroke-width="0.6"/><ellipse cx="131" cy="604.2" rx="4.2" ry="2.3" fill="#c8c8cc" stroke="#7a7a7e" stroke-width="0.6"/><line x1="129.2" y1="604.2" x2="132.8" y2="604.2" stroke="#8a8a8e" stroke-width="0.6"/>
<path d="M143.0,605 V616.5 L144.5,620.5 L146.0,616.5 V605 Z" fill="#c2c2c6" stroke="#7a7a7e" stroke-width="0.6"/><line x1="142.6" y1="607.6" x2="146.4" y2="606.4" stroke="#86868a" stroke-width="0.6"/><line x1="142.6" y1="610.0" x2="146.4" y2="608.8" stroke="#86868a" stroke-width="0.6"/><line x1="142.6" y1="612.4" x2="146.4" y2="611.1999999999999" stroke="#86868a" stroke-width="0.6"/><line x1="142.6" y1="614.8000000000001" x2="146.4" y2="613.6" stroke="#86868a" stroke-width="0.6"/><line x1="142.6" y1="617.2" x2="146.4" y2="616.0" stroke="#86868a" stroke-width="0.6"/><ellipse cx="144.5" cy="604.2" rx="4.2" ry="2.3" fill="#c8c8cc" stroke="#7a7a7e" stroke-width="0.6"/><line x1="142.7" y1="604.2" x2="146.3" y2="604.2" stroke="#8a8a8e" stroke-width="0.6"/>
<path d="M156.5,605 V616.5 L158,620.5 L159.5,616.5 V605 Z" fill="#c2c2c6" stroke="#7a7a7e" stroke-width="0.6"/><line x1="156.1" y1="607.6" x2="159.9" y2="606.4" stroke="#86868a" stroke-width="0.6"/><line x1="156.1" y1="610.0" x2="159.9" y2="608.8" stroke="#86868a" stroke-width="0.6"/><line x1="156.1" y1="612.4" x2="159.9" y2="611.1999999999999" stroke="#86868a" stroke-width="0.6"/><line x1="156.1" y1="614.8000000000001" x2="159.9" y2="613.6" stroke="#86868a" stroke-width="0.6"/><line x1="156.1" y1="617.2" x2="159.9" y2="616.0" stroke="#86868a" stroke-width="0.6"/><ellipse cx="158" cy="604.2" rx="4.2" ry="2.3" fill="#c8c8cc" stroke="#7a7a7e" stroke-width="0.6"/><line x1="156.2" y1="604.2" x2="159.8" y2="604.2" stroke="#8a8a8e" stroke-width="0.6"/>
<circle cx="186.3" cy="568.6" r="15.4" fill="#1e4699" stroke="#173a7e" stroke-width="0.9"/><text x="186.4" y="575.8" text-anchor="middle" font-family="Liberation Sans" font-size="20" fill="#b9ef8e" textLength="18" lengthAdjust="spacingAndGlyphs"><tspan font-size="18.5" fill="#c8f2b4" stroke="#c8f2b4" stroke-width="0.3">x</tspan><tspan font-weight="normal" stroke="#b9ef8e" stroke-width="0.55">8</tspan></text>
<path d="M134.1,646.8 L140.1,638.2 L146.1,646.8 Z" fill="#29a33c"/>
<rect x="70.6" y="646" width="138.3" height="23.6" rx="11.8" fill="#29a33c" stroke="#22913a" stroke-width="0.8"/>
<text x="139.75" y="662.8" text-anchor="middle" font-family="Liberation Sans" font-weight="bold" font-size="16" fill="#f6fcf2" stroke="#f6fcf2" stroke-width="0.35" textLength="40.5" lengthAdjust="spacingAndGlyphs">screw</text>
<circle cx="261.8" cy="593.3" r="6.7" fill="#f3f3f5" stroke="#dcdce0" stroke-width="0.8"/><ellipse cx="262.1" cy="593.0999999999999" rx="4.3" ry="3.5" fill="#e2e2e5" stroke="#7e7e84" stroke-width="1.3" transform="rotate(50 262.1 593.0999999999999)"/><ellipse cx="262.1" cy="593.0999999999999" rx="1.8" ry="1.4" fill="none" stroke="#b8b8bc" stroke-width="0.6" transform="rotate(50 262.1 593.0999999999999)"/>
<ellipse cx="277.3" cy="593.3" rx="6.5" ry="6.2" fill="#eeeef0" stroke="#dcdce0" stroke-width="0.8"/><ellipse cx="277.3" cy="592.3" rx="5.2" ry="3.8" fill="#f6f6f8" stroke="#dedee2" stroke-width="0.7"/><ellipse cx="277.3" cy="592.3" rx="1.6" ry="1.1" fill="#cfcfd4"/>
<circle cx="295.6" cy="593.3" r="6.7" fill="#f3f3f5" stroke="#dcdce0" stroke-width="0.8"/><ellipse cx="295.90000000000003" cy="593.0999999999999" rx="4.3" ry="3.5" fill="#e2e2e5" stroke="#7e7e84" stroke-width="1.3" transform="rotate(50 295.90000000000003 593.0999999999999)"/><ellipse cx="295.90000000000003" cy="593.0999999999999" rx="1.8" ry="1.4" fill="none" stroke="#b8b8bc" stroke-width="0.6" transform="rotate(50 295.90000000000003 593.0999999999999)"/>
<ellipse cx="310.8" cy="593.3" rx="6.5" ry="6.2" fill="#eeeef0" stroke="#dcdce0" stroke-width="0.8"/><ellipse cx="310.8" cy="592.3" rx="5.2" ry="3.8" fill="#f6f6f8" stroke="#dedee2" stroke-width="0.7"/><ellipse cx="310.8" cy="592.3" rx="1.6" ry="1.1" fill="#cfcfd4"/>
<circle cx="261.8" cy="617.1" r="6.7" fill="#f3f3f5" stroke="#dcdce0" stroke-width="0.8"/><ellipse cx="262.1" cy="616.9" rx="4.3" ry="3.5" fill="#e2e2e5" stroke="#7e7e84" stroke-width="1.3" transform="rotate(50 262.1 616.9)"/><ellipse cx="262.1" cy="616.9" rx="1.8" ry="1.4" fill="none" stroke="#b8b8bc" stroke-width="0.6" transform="rotate(50 262.1 616.9)"/>
<ellipse cx="277.3" cy="617.1" rx="6.5" ry="6.2" fill="#eeeef0" stroke="#dcdce0" stroke-width="0.8"/><ellipse cx="277.3" cy="616.1" rx="5.2" ry="3.8" fill="#f6f6f8" stroke="#dedee2" stroke-width="0.7"/><ellipse cx="277.3" cy="616.1" rx="1.6" ry="1.1" fill="#cfcfd4"/>
<circle cx="295.6" cy="617.1" r="6.7" fill="#f3f3f5" stroke="#dcdce0" stroke-width="0.8"/><ellipse cx="295.90000000000003" cy="616.9" rx="4.3" ry="3.5" fill="#e2e2e5" stroke="#7e7e84" stroke-width="1.3" transform="rotate(50 295.90000000000003 616.9)"/><ellipse cx="295.90000000000003" cy="616.9" rx="1.8" ry="1.4" fill="none" stroke="#b8b8bc" stroke-width="0.6" transform="rotate(50 295.90000000000003 616.9)"/>
<ellipse cx="310.8" cy="617.1" rx="6.5" ry="6.2" fill="#eeeef0" stroke="#dcdce0" stroke-width="0.8"/><ellipse cx="310.8" cy="616.1" rx="5.2" ry="3.8" fill="#f6f6f8" stroke="#dedee2" stroke-width="0.7"/><ellipse cx="310.8" cy="616.1" rx="1.6" ry="1.1" fill="#cfcfd4"/>
<circle cx="336.3" cy="565.9" r="15.4" fill="#1e4699" stroke="#173a7e" stroke-width="0.9"/><text x="336.1" y="573.5" text-anchor="middle" font-family="Liberation Sans" font-size="20" fill="#b9ef8e" textLength="17.3" lengthAdjust="spacingAndGlyphs"><tspan font-size="18.5" fill="#c8f2b4" stroke="#c8f2b4" stroke-width="0.3">x</tspan><tspan font-weight="bold" stroke="#b9ef8e" stroke-width="0.2">8</tspan></text>
<path d="M288,649.1999999999999 L294,640.6 L300,649.1999999999999 Z" fill="#29a33c"/>
<rect x="224.4" y="648.4" width="137.9" height="23.6" rx="11.8" fill="#29a33c" stroke="#22913a" stroke-width="0.8"/>
<text x="293.35" y="665.1999999999999" text-anchor="middle" font-family="Liberation Sans" font-weight="bold" font-size="15.5" fill="#f6fcf2" stroke="#f6fcf2" stroke-width="0.35" textLength="113.5" lengthAdjust="spacingAndGlyphs">Adhesive magnet</text>
<rect x="382.7" y="589" width="251.3" height="10.6" fill="#e6e7f3" stroke="#dadbe7" stroke-width="0.6"/>
<rect x="382.7" y="603.2" width="251.3" height="10.4" fill="#e6e7f3" stroke="#dadbe7" stroke-width="0.6"/>
<circle cx="653.1" cy="567" r="15.4" fill="#1e4699" stroke="#173a7e" stroke-width="0.9"/><text x="653" y="573.8" text-anchor="middle" font-family="Liberation Sans" font-size="19" fill="#b9ef8e" textLength="17.3" lengthAdjust="spacingAndGlyphs"><tspan font-size="18" fill="#c8f2b4" stroke="#c8f2b4" stroke-width="0.3">x</tspan><tspan font-weight="normal" stroke="#b9ef8e" stroke-width="0.55">2</tspan></text>
<path d="M523.4,647.8 L529.4,639.4 L535.4,647.8 Z" fill="#29a33c"/>
<rect x="460.6" y="647" width="138.3" height="23.6" rx="11.8" fill="#29a33c" stroke="#22913a" stroke-width="0.8"/>
<text x="529.75" y="663.8" text-anchor="middle" font-family="Liberation Sans" font-weight="bold" font-size="15.5" fill="#f6fcf2" stroke="#f6fcf2" stroke-width="0.35" textLength="117.4" lengthAdjust="spacingAndGlyphs">double sided tape</text>
</svg></body></html>
